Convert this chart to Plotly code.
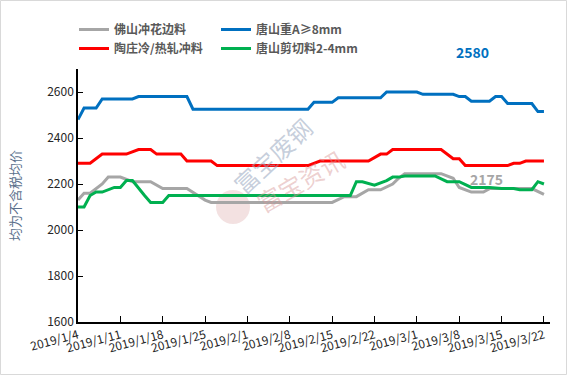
import plotly.graph_objects as go

# ---- data (breakpoints) ----
gray_dates = ["2019-01-04", "2019-01-05", "2019-01-06", "2019-01-08", "2019-01-09", "2019-01-11",
              "2019-01-13", "2019-01-16", "2019-01-18", "2019-01-22", "2019-01-25", "2019-01-26",
              "2019-02-15", "2019-02-17", "2019-02-19", "2019-02-20", "2019-02-21", "2019-02-23",
              "2019-02-25", "2019-02-26", "2019-02-27", "2019-03-05", "2019-03-07", "2019-03-08",
              "2019-03-10", "2019-03-12", "2019-03-13", "2019-03-20", "2019-03-22"]
gray_vals = [2130, 2160, 2160, 2200, 2230, 2230,
             2210, 2210, 2180, 2180, 2130, 2120,
             2120, 2145, 2145, 2160, 2175, 2175,
             2200, 2225, 2245, 2245, 2225, 2185,
             2165, 2165, 2180, 2180, 2155]

blue_dates = ["2019-01-04", "2019-01-05", "2019-01-07", "2019-01-08", "2019-01-13", "2019-01-14",
              "2019-01-22", "2019-01-23", "2019-02-11", "2019-02-12", "2019-02-15", "2019-02-16",
              "2019-02-23", "2019-02-24", "2019-03-01", "2019-03-02", "2019-03-07", "2019-03-08",
              "2019-03-09", "2019-03-10", "2019-03-13", "2019-03-14", "2019-03-15", "2019-03-16",
              "2019-03-20", "2019-03-21", "2019-03-22"]
blue_vals = [2480, 2530, 2530, 2570, 2570, 2580,
             2580, 2525, 2525, 2555, 2555, 2575,
             2575, 2600, 2600, 2590, 2590, 2580,
             2580, 2560, 2560, 2580, 2580, 2550,
             2550, 2515, 2515]

red_dates = ["2019-01-04", "2019-01-06", "2019-01-08", "2019-01-12", "2019-01-14", "2019-01-16",
             "2019-01-17", "2019-01-21", "2019-01-22", "2019-01-26", "2019-01-27", "2019-02-11",
             "2019-02-13", "2019-02-21", "2019-02-23", "2019-02-24", "2019-02-25", "2019-03-05",
             "2019-03-07", "2019-03-08", "2019-03-09", "2019-03-16", "2019-03-17", "2019-03-18",
             "2019-03-19", "2019-03-22"]
red_vals = [2290, 2290, 2330, 2330, 2350, 2350,
            2330, 2330, 2300, 2300, 2280, 2280,
            2300, 2300, 2330, 2330, 2350, 2350,
            2310, 2310, 2280, 2280, 2290, 2290,
            2300, 2300]

green_dates = ["2019-01-04", "2019-01-05", "2019-01-06", "2019-01-07", "2019-01-08", "2019-01-10",
               "2019-01-11", "2019-01-12", "2019-01-13", "2019-01-14", "2019-01-15", "2019-01-16",
               "2019-01-18", "2019-01-19", "2019-02-18", "2019-02-19", "2019-02-20", "2019-02-22",
               "2019-02-23", "2019-02-24", "2019-02-25", "2019-02-26", "2019-02-27", "2019-03-04",
               "2019-03-06", "2019-03-08", "2019-03-10", "2019-03-13", "2019-03-15", "2019-03-17",
               "2019-03-18", "2019-03-20", "2019-03-21", "2019-03-22"]
green_vals = [2100, 2100, 2150, 2165, 2165, 2185,
              2185, 2215, 2215, 2180, 2150, 2120,
              2120, 2150, 2150, 2210, 2210, 2195,
              2205, 2215, 2230, 2230, 2235, 2235,
              2210, 2210, 2185, 2185, 2180, 2180,
              2175, 2175, 2210, 2200]

series_names = ["佛山冲花边料", "唐山重A≥8mm", "陶庄冷/热轧冲料", "唐山剪切料2-4mm"]
series_colors = ["#A6A6A6", "#0070C0", "#FF0000", "#00B050"]
series_legend = ["legend", "legend2", "legend", "legend2"]

tick_dates = ["2019-01-04", "2019-01-11", "2019-01-18", "2019-01-25", "2019-02-01", "2019-02-08",
              "2019-02-15", "2019-02-22", "2019-03-01", "2019-03-08", "2019-03-15", "2019-03-22"]
tick_labels = ["2019/1/4", "2019/1/11", "2019/1/18", "2019/1/25", "2019/2/1", "2019/2/8",
               "2019/2/15", "2019/2/22", "2019/3/1", "2019/3/8", "2019/3/15", "2019/3/22"]
y_ticks = [1600, 1800, 2000, 2200, 2400, 2600]
y_title = "均为不含税均价"

W, H = 567, 375
ML, MR, MT, MB = 78, 17, 69, 53
PW, PH = W - ML - MR, H - MT - MB


def px_x(p):
    return (p - ML) / PW


def px_y(p):
    return (H - MB - p) / PH


FONT = "Noto Sans CJK SC"
leg_font = dict(family=FONT, size=12, color="#595959", weight="bold")

fig = go.Figure()
for name, col, lg, xs, ys in zip(series_names, series_colors, series_legend,
                                 [gray_dates, blue_dates, red_dates, green_dates],
                                 [gray_vals, blue_vals, red_vals, green_vals]):
    fig.add_trace(go.Scatter(x=xs, y=ys, name=name, mode="lines", legend=lg,
                             line=dict(color=col, width=3)))

fig.update_layout(
    width=W, height=H,
    margin=dict(l=ML, r=MR, t=MT, b=MB, autoexpand=False),
    paper_bgcolor="white", plot_bgcolor="white",
    font=dict(family=FONT, size=12, color="#262626"),
    showlegend=True,
    legend=dict(orientation="v", xref="container", yref="container",
                x=74 / W, y=1 - 15 / H, xanchor="left", yanchor="top",
                font=leg_font, bgcolor="rgba(0,0,0,0)", tracegroupgap=0, itemwidth=30),
    legend2=dict(orientation="v", xref="container", yref="container",
                 x=216 / W, y=1 - 15 / H, xanchor="left", yanchor="top",
                 font=leg_font, bgcolor="rgba(0,0,0,0)", tracegroupgap=0, itemwidth=30),
    xaxis=dict(type="date", range=["2019-01-04", "2019-03-23"],
               tickmode="array", tickvals=tick_dates, ticktext=tick_labels,
               tickangle=-15, ticks="inside", ticklen=6, tickcolor="black",
               showline=True, linecolor="black", linewidth=1.5, showgrid=False,
               zeroline=False, tickfont=dict(size=12, color="#262626"), automargin=False),
    yaxis=dict(range=[1600, 2700], tickmode="array", tickvals=y_ticks,
               ticks="inside", ticklen=5, tickcolor="black",
               showline=True, linecolor="black", linewidth=1.5, showgrid=False,
               zeroline=False, tickfont=dict(size=12, color="#262626"), automargin=False),
)


def note(text, x, y, font, angle=0):
    fig.add_annotation(text=text, xref="paper", yref="paper", x=px_x(x), y=px_y(y),
                       xanchor="center", yanchor="middle", showarrow=False,
                       textangle=angle, font=font)


# y-axis title
note(y_title, 14, 196, dict(size=13, color="#5A6F8C", family=FONT), -90)

# outer border
fig.add_shape(type="rect", xref="paper", yref="paper",
              x0=px_x(0.5), x1=px_x(W - 0.5), y0=px_y(H - 0.5), y1=px_y(0.5),
              line=dict(color="#D9D9D9", width=1), layer="below")

# watermark
fig.add_shape(type="circle", xref="paper", yref="paper",
              x0=px_x(216), x1=px_x(250), y0=px_y(224), y1=px_y(190),
              fillcolor="rgba(200,120,120,0.22)", line=dict(width=0), layer="below")
note("富宝废钢", 272, 155, dict(size=24, color="rgba(150,165,190,0.55)", family=FONT), -43)
note("富宝资讯", 300, 180, dict(size=24, color="rgba(215,150,150,0.45)", family=FONT), -30)

# value labels
note("2580", 472, 52, dict(size=14, color="#0070C0", family=FONT, weight="bold"))
note("2175", 486, 179, dict(size=14, color="#A6A6A6", family=FONT, weight="bold"))

fig.write_html("out.html", config={"displayModeBar": False},
               post_script="document.body.style.margin='0';document.body.style.overflow='hidden';")
